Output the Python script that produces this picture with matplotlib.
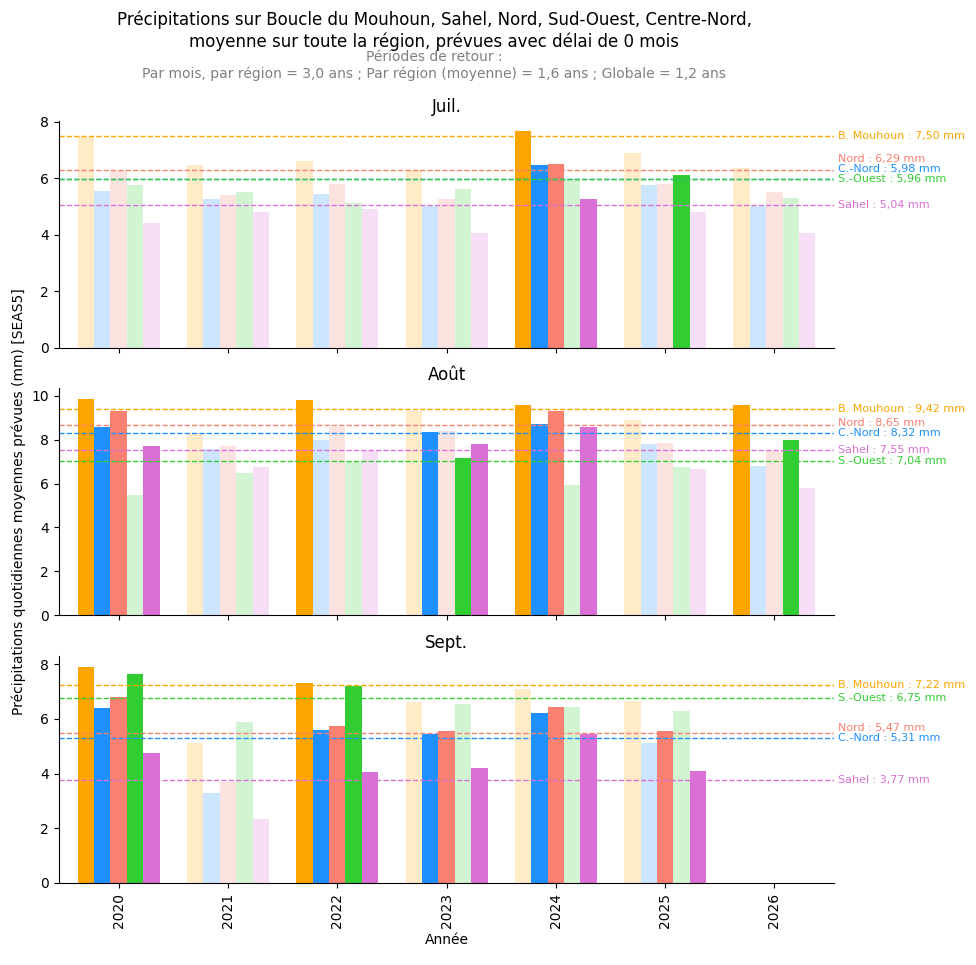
import numpy as np
import matplotlib.pyplot as plt

years = [2020, 2021, 2022, 2023, 2024, 2025, 2026]
regions = ["B. Mouhoun", "C.-Nord", "Nord", "S.-Ouest", "Sahel"]
colors = ["orange", "dodgerblue", "salmon", "limegreen", "orchid"]
months = ["Juil.", "Août", "Sept."]

juil = {"B. Mouhoun": [7.45, 6.45, 6.6, 6.3, 7.65, 6.9, 6.35],
        "C.-Nord": [5.55, 5.25, 5.45, 5.0, 6.45, 5.75, 5.0],
        "Nord": [6.25, 5.4, 5.8, 5.25, 6.5, 5.8, 5.5],
        "S.-Ouest": [5.75, 5.5, 5.1, 5.6, 5.95, 6.1, 5.3],
        "Sahel": [4.4, 4.8, 4.9, 4.05, 5.25, 4.8, 4.05]}
aout = {"B. Mouhoun": [9.85, 8.3, 9.8, 9.3, 9.6, 8.9, 9.6],
        "C.-Nord": [8.6, 7.6, 8.0, 8.35, 8.7, 7.8, 6.8],
        "Nord": [9.3, 7.7, 8.6, 8.4, 9.3, 7.85, 7.5],
        "S.-Ouest": [5.5, 6.5, 7.0, 7.15, 5.95, 6.75, 8.0],
        "Sahel": [7.7, 6.75, 7.5, 7.8, 8.6, 6.65, 5.8]}
sept = {"B. Mouhoun": [7.9, 5.1, 7.3, 6.6, 7.1, 6.65, np.nan],
        "C.-Nord": [6.4, 3.3, 5.6, 5.45, 6.2, 5.1, np.nan],
        "Nord": [6.8, 3.7, 5.75, 5.55, 6.45, 5.55, np.nan],
        "S.-Ouest": [7.65, 5.9, 7.2, 6.55, 6.45, 6.3, np.nan],
        "Sahel": [4.75, 2.35, 4.05, 4.2, 5.45, 4.1, np.nan]}
thr_juil = [7.50, 5.98, 6.29, 5.96, 5.04]
thr_aout = [9.42, 8.32, 8.65, 7.04, 7.55]
thr_sept = [7.22, 5.31, 5.47, 6.75, 3.77]

data = [juil, aout, sept]
thrs = [thr_juil, thr_aout, thr_sept]

fig, axes = plt.subplots(3, 1, figsize=(9.76, 9.65), dpi=100, sharex=True)
fig.subplots_adjust(left=0.06, right=0.855, top=0.875, bottom=0.085, hspace=0.18)
x = np.arange(len(years))
w = 0.15
for ax, m, d, th in zip(axes, months, data, thrs):
    for i, r in enumerate(regions):
        vals = np.array(d[r], dtype=float)
        for j, v in enumerate(vals):
            if np.isnan(v):
                continue
            a = 1.0 if v > th[i] else 0.22
            ax.bar(x[j] + (i - 2) * w, v, w, color=colors[i], alpha=a)
        ax.axhline(th[i], color=colors[i], ls="--", lw=1)
    ax.set_title(m)
    ax.spines["top"].set_visible(False)
    ax.spines["right"].set_visible(False)
    ax.set_xlim(-0.55, 6.55)
    ax.margins(y=0.05)
    ax.set_ylim(0, None)
    lo, hi = ax.get_ylim()
    gap = (hi - lo) * 0.045
    order = np.argsort(th)
    pos = {}
    last = -1e9
    for k in order:
        y = max(th[k], last + gap)
        pos[k] = y
        last = y
    for k in range(5):
        sval = f"{th[k]:.2f}".replace(".", ",")
        ax.text(1.005, pos[k], f"{regions[k]} : {sval} mm", transform=ax.get_yaxis_transform(),
                color=colors[k], fontsize=8, va="center", clip_on=False)
axes[-1].set_xticks(x)
axes[-1].set_xticklabels([str(y) for y in years], rotation=90)
axes[-1].set_xlabel("Année")
fig.text(0.012, 0.48, "Précipitations quotidiennes moyennes prévues (mm) [SEAS5]", rotation=90,
         va="center", ha="left", fontsize=10)
fig.text(0.445, 0.968, "Précipitations sur Boucle du Mouhoun, Sahel, Nord, Sud-Ouest, Centre-Nord,\nmoyenne sur toute la région, prévues avec délai de 0 mois",
         ha="center", va="center", fontsize=12)
fig.text(0.445, 0.932, "Périodes de retour :\nPar mois, par région = 3,0 ans ; Par région (moyenne) = 1,6 ans ; Globale = 1,2 ans",
         ha="center", va="center", fontsize=10, color="grey")
fig.savefig("out.png")
